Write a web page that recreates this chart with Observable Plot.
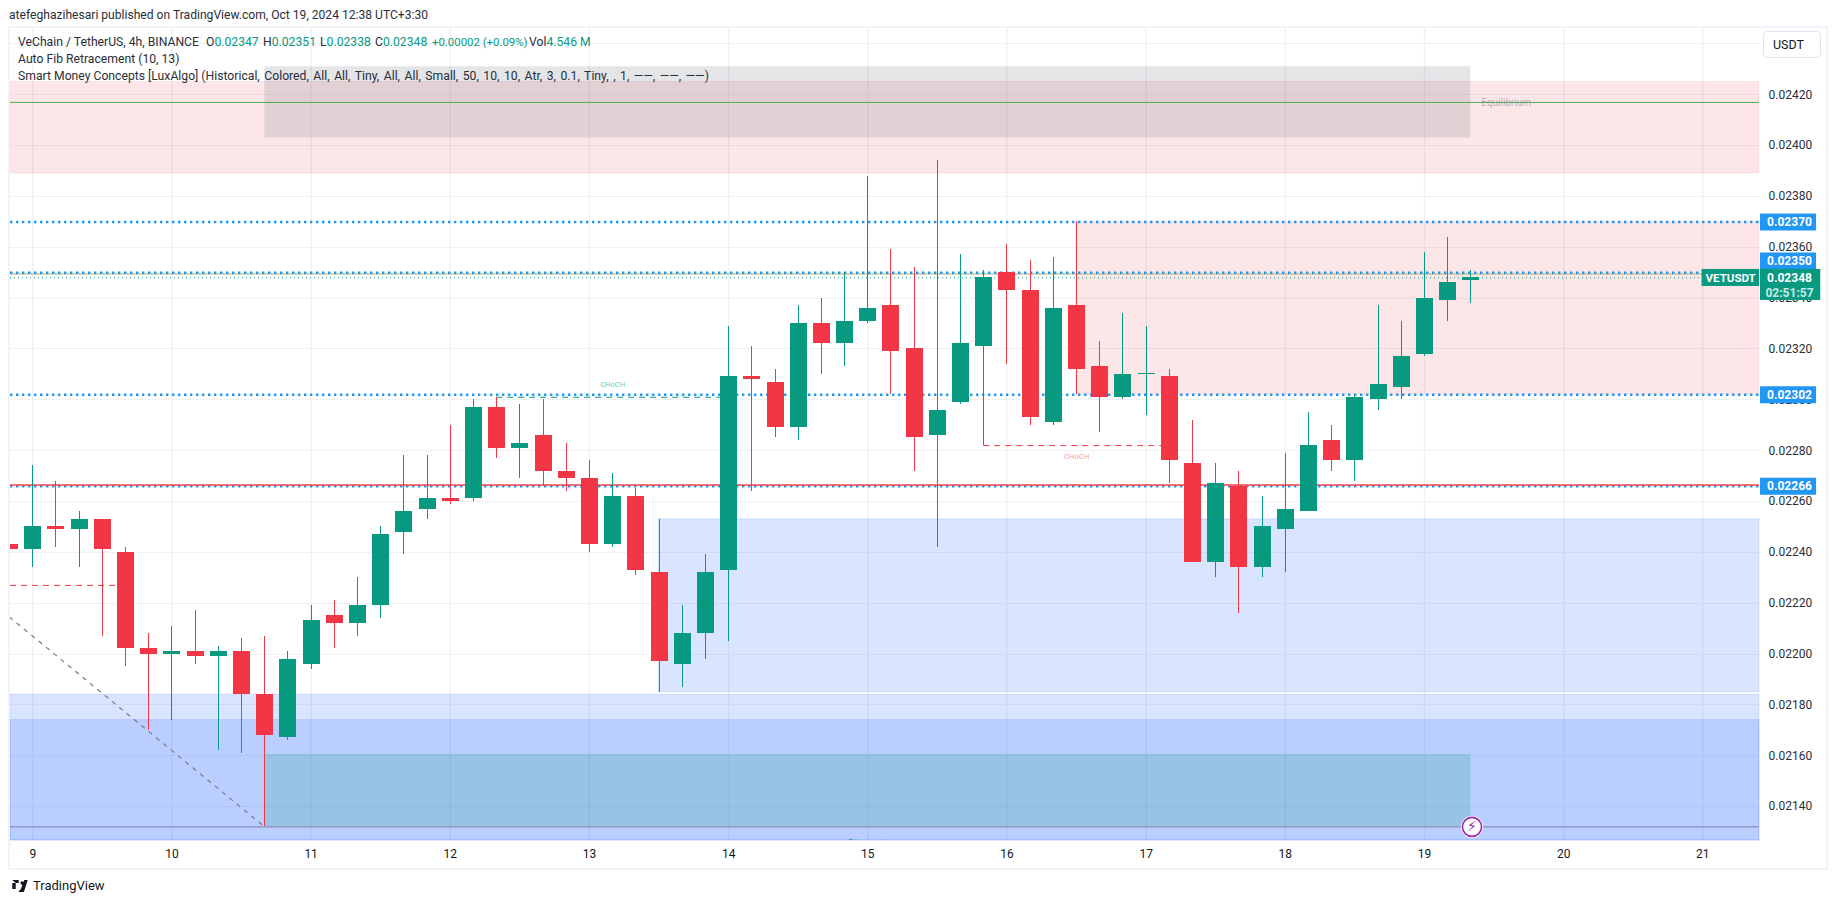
<!DOCTYPE html>
<html>
<head>
<meta charset="utf-8">
<script src="https://cdn.jsdelivr.net/npm/d3@7"></script>
<script src="https://cdn.jsdelivr.net/npm/@observablehq/plot@0.6"></script>
<style>
html,body{margin:0;padding:0;background:#fff;width:1835px;height:903px;overflow:hidden;font-family:Roboto,"Noto Sans",sans-serif;color:#131722}
#page{position:relative;width:1835px;height:903px}
#head{position:absolute;left:9px;top:6px;font-size:12.1px;line-height:18px;color:#2a2e39;white-space:nowrap}
#frame{position:absolute;left:8px;top:26px;width:1816px;height:840px;border:2px solid #f0f3fa;pointer-events:none}
#chart{position:absolute;left:0;top:27px}
#chart svg{display:block;background:transparent}
.leg{position:absolute;left:18px;font-size:12.2px;line-height:17px;color:#2a2e39;white-space:pre}
.leg span.p{position:absolute;top:0}
.leg span.w{word-spacing:1.5px}
.leg b{font-weight:400;color:#089981}
#usdt{position:absolute;left:1763px;top:31px;width:56px;height:25px;border:1px solid #e0e3eb;border-radius:4px;font-size:12.5px;line-height:25px;box-sizing:content-box;color:#131722;text-indent:9px;background:#fff}
#logo{position:absolute;left:10px;top:879px;display:flex;align-items:center;gap:3px;font-size:13px;line-height:14px;color:#131722}
</style>
</head>
<body>
<div id="page">
  <div id="head">atefeghazihesari published on TradingView.com, Oct 19, 2024 12:38 UTC+3:30</div>
  <div id="chart"></div>
  <div id="frame"></div>
  <div class="leg" style="top:34px">VeChain / TetherUS, 4h, BINANCE<span class="p" style="left:188px">O<b>0.02347</b></span><span class="p" style="left:245px">H<b>0.02351</b></span><span class="p" style="left:302px">L<b>0.02338</b></span><span class="p" style="left:357px">C<b>0.02348</b></span><span class="p" style="left:414px;font-size:11.4px"><b>+0.00002 (+0.09%)</b></span><span class="p" style="left:511px">Vol<b>4.546 M</b></span></div>
  <div class="leg" style="top:51px">Auto Fib Retracement (10, 13)</div>
  <div class="leg" style="top:68px">Smart Money Concepts [LuxAlgo] <span class="w">(Historical, Colored, All, All, Tiny, All, All, Small, 50, 10, 10, Atr, 3, 0.1, Tiny, , 1, ——, ——, ——)</span></div>
  <div id="usdt">USDT</div>
  <div id="logo">
    <svg width="20" height="12" viewBox="0 0 36 28"><path fill="#131722" d="M0 0h15v7H8v14H0V14H0zM27 7a4 4 0 1 1-8 0 4 4 0 0 1 8 0zM20 21l8-21h8l-9 28H14z M0 0v7h8z"/></svg>
    <span>TradingView</span>
  </div>
</div>
<script>
// ---------- candle data (price units of USDT), 4h bars ----------
const firstBar = -1;
const opens  = [0.02243,0.02241,0.02250,0.02249,0.02253,0.02240,0.02202,0.02200,0.02201,0.02199,0.02201,0.02184,0.02167,0.02196,0.02215,0.02212,0.02219,0.02248,0.02257,0.02261,0.02261,0.02297,0.02281,0.02286,0.02272,0.02269,0.02243,0.02262,0.02232,0.02196,0.02208,0.02233,0.02309,0.02307,0.02289,0.02330,0.02322,0.02331,0.02337,0.02320,0.02286,0.02299,0.02321,0.02350,0.02343,0.02291,0.02337,0.02313,0.02301,0.02310,0.02309,0.02275,0.02236,0.02266,0.02234,0.02249,0.02256,0.02284,0.02276,0.02300,0.02305,0.02318,0.02339,0.02347];
const highs  = [0.02243,0.02274,0.02268,0.02256,0.02253,0.02242,0.02208,0.02211,0.02217,0.02203,0.02206,0.02207,0.02201,0.02219,0.02221,0.02230,0.02250,0.02278,0.02278,0.02290,0.02300,0.02301,0.02298,0.02300,0.02283,0.02276,0.02271,0.02265,0.02253,0.02219,0.02239,0.02329,0.02321,0.02312,0.02337,0.02340,0.02350,0.02388,0.02359,0.02352,0.02394,0.02357,0.02351,0.02361,0.02355,0.02356,0.02370,0.02323,0.02334,0.02329,0.02312,0.02292,0.02275,0.02272,0.02262,0.02279,0.02295,0.02290,0.02302,0.02337,0.02331,0.02358,0.02364,0.02351];
const lows   = [0.02241,0.02234,0.02242,0.02234,0.02207,0.02195,0.02170,0.02174,0.02196,0.02162,0.02161,0.02132,0.02166,0.02194,0.02202,0.02207,0.02214,0.02239,0.02253,0.02259,0.02260,0.02277,0.02269,0.02266,0.02264,0.02240,0.02242,0.02231,0.02185,0.02187,0.02198,0.02205,0.02264,0.02285,0.02284,0.02310,0.02313,0.02330,0.02302,0.02272,0.02242,0.02298,0.02282,0.02314,0.02290,0.02290,0.02302,0.02287,0.02300,0.02294,0.02267,0.02236,0.02230,0.02216,0.02230,0.02232,0.02256,0.02272,0.02268,0.02296,0.02300,0.02317,0.02331,0.02338];
const closes = [0.02241,0.02250,0.02249,0.02253,0.02241,0.02202,0.02200,0.02201,0.02199,0.02201,0.02184,0.02168,0.02198,0.02213,0.02212,0.02219,0.02247,0.02256,0.02261,0.02260,0.02297,0.02281,0.02283,0.02272,0.02269,0.02243,0.02262,0.02233,0.02197,0.02208,0.02232,0.02309,0.02308,0.02289,0.02330,0.02322,0.02331,0.02336,0.02319,0.02285,0.02296,0.02322,0.02348,0.02343,0.02293,0.02336,0.02312,0.02301,0.02310,0.023104,0.02276,0.02236,0.02267,0.02234,0.02250,0.02257,0.02282,0.02276,0.02301,0.02306,0.02317,0.02340,0.02346,0.02348];

// ---------- axes ----------
const dayTicks = [9,10,11,12,13,14,15,16,17,18,19,20,21];
const priceTicks = [0.0214,0.0216,0.0218,0.0220,0.0222,0.0224,0.0226,0.0228,0.0230,0.0232,0.0234,0.0236,0.0238,0.0240,0.0242,0.0244];
const xDomain = [8.8398,21.4074];
const yDomain = [0.0212665,0.0244608];

// ---------- indicator zones ----------
const barDay = k => 9 + k/6;
const xMin = xDomain[0], xMax = xDomain[1];
const redZones = [
  {x1:xMin, x2:xMax, y1:0.02389, y2:0.02425},
  {x1:barDay(45), x2:xMax, y1:0.02302, y2:0.02370}
];
const blueZones = [
  {x1:barDay(27), x2:xMax, y1:0.02185, y2:0.02253},
  {x1:xMin, x2:xMax, y1:yDomain[0], y2:0.02184},
  {x1:xMin, x2:xMax, y1:yDomain[0], y2:0.02174}
];
const fibBoxes = [
  {x1:barDay(10), x2:barDay(62), y1:0.02403, y2:0.02431, fill:"#787b86"},
  {x1:barDay(10), x2:barDay(62), y1:0.02132, y2:0.021605, fill:"#089981"}
];
// ---------- level lines ----------
const blueLevels = [0.02370,0.02350,0.02302,0.02266];
const redLevel = [0.022665];
const fibLevel = [0.023495];
const lastPrice = [0.02348];
const equilibrium = [0.02417];
const lowLevel = [0.02132];
const dashed = [
  {a:barDay(20), b:barDay(30), y:0.02301, c:"#089981"},
  {a:barDay(41), b:barDay(49), y:0.02282, c:"#f23645"},
  {a:xMin, b:barDay(4), y:0.02227, c:"#f23645"}
];
const fibTrend = [{x:barDay(-1), y:0.022145},{x:barDay(10), y:0.02132}];
// ---------- text labels ----------
const notes = [
  {x:barDay(25), y:0.02306, t:"CHoCH", c:"#089981", o:.6, s:7.6},
  {x:barDay(45), y:0.022775, t:"CHoCH", c:"#f23645", o:.55, s:7.6},
  {x:barDay(36), y:0.021255, t:"Discount", c:"#089981", o:.8, s:10}
];
const equilibriumNote = [{x:barDay(62.45), y:0.02417, t:"Equilibrium"}];
// ---------- price badges in the right margin ----------
const badgeX1 = 21.4146, badgeX2 = 21.8176, badgeTextX = 21.6230;
const badges = [
  {label:"0.02370", pos:0.02370},
  {label:"0.02350", pos:0.023546},
  {label:"0.02302", pos:0.02302},
  {label:"0.02266", pos:0.02266}
];

const bars = opens.map((o,i)=>({
  x: barDay(firstBar+i), o, h: highs[i], l: lows[i], c: closes[i],
  col: closes[i]>=o ? "#089981" : "#f23645"
}));

const chart = Plot.plot({
  width:1835, height:841,
  marginTop:1, marginBottom:28, marginLeft:10, marginRight:76,
  style:{background:"transparent",fontFamily:"Roboto,'Noto Sans',sans-serif",fontSize:"12px",overflow:"visible"},
  x:{domain:xDomain, axis:null},
  y:{domain:yDomain, axis:null},
  marks:[
    // grid
    Plot.ruleY(priceTicks,{y:d=>d,stroke:"#eff1f5",strokeWidth:1,shapeRendering:"crispEdges"}),
    Plot.ruleX(dayTicks,{x:d=>d,stroke:"#eff1f5",strokeWidth:1.4}),
    // zones
    Plot.rect(redZones,{x1:"x1",x2:"x2",y1:"y1",y2:"y2",fill:"#f23645",fillOpacity:.125,stroke:"#f23645",strokeOpacity:.1}),
    Plot.rect(blueZones,{x1:"x1",x2:"x2",y1:"y1",y2:"y2",fill:"#2a6cff",fillOpacity:.18,stroke:"#2a6cff",strokeOpacity:.15}),
    Plot.rect(fibBoxes,{x1:"x1",x2:"x2",y1:"y1",y2:"y2",fill:"fill",fillOpacity:.2}),
    // lines
    Plot.ruleY(equilibrium,{y:d=>d,stroke:"#4caf50",strokeWidth:1}),
    Plot.ruleY(lowLevel,{y:d=>d,stroke:"#8f8db0",strokeWidth:1.2}),
    Plot.ruleY(fibLevel,{y:d=>d,stroke:"#a3b36c",strokeWidth:1}),
    Plot.ruleY(blueLevels,{y:d=>d,stroke:"#2196f3",strokeWidth:2.5,strokeDasharray:"2.4 3.6"}),
    Plot.ruleY(redLevel,{y:d=>d,stroke:"#f6414b",strokeWidth:1.4}),
    Plot.ruleY(lastPrice,{y:d=>d,stroke:"#089981",strokeWidth:1,strokeDasharray:"1 3"}),
    Plot.ruleY(dashed,{y:"y",x1:"a",x2:"b",stroke:"c",strokeWidth:1,strokeDasharray:"6 5",clip:true}),
    Plot.line(fibTrend,{x:"x",y:"y",stroke:"#787b86",strokeWidth:1.2,strokeDasharray:"3.5 6",clip:true}),
    // candles
    Plot.ruleX(bars,{x:"x",y1:"l",y2:"h",stroke:"col",strokeWidth:1,clip:true,shapeRendering:"crispEdges"}),
    Plot.ruleX(bars,{x:"x",y1:"o",y2:"c",stroke:"col",strokeWidth:17,clip:true,shapeRendering:"crispEdges"}),
    // labels
    Plot.text(notes,{x:"x",y:"y",text:"t",fill:"c",fillOpacity:"o",fontSize:"s",clip:true}),
    Plot.text(equilibriumNote,{x:"x",y:"y",text:"t",fill:"#787b86",fillOpacity:.5,fontSize:10,textAnchor:"start"}),
    // axes
    Plot.axisX({ticks:dayTicks,anchor:"bottom",tickSize:0,tickPadding:8.5,tickFormat:d=>d,fill:"#131722",label:null}),
    Plot.axisY({ticks:priceTicks.slice(0,-1),anchor:"right",tickSize:0,tickPadding:9,tickFormat:d3.format(".5f"),fill:"#2a2e39",label:null}),
    // flash marker
    Plot.dot([{x:barDay(62.05),y:0.02132}],{x:"x",y:"y",r:10,fill:"#fff",stroke:"#fff",strokeWidth:2}),
    Plot.dot([{x:barDay(62.05),y:0.02132}],{x:"x",y:"y",r:9.5,fill:"#fff",stroke:"#9c27b0",strokeWidth:1.6}),
    Plot.text([{x:barDay(62.05),y:0.02132}],{x:"x",y:"y",text:()=>"⚡\uFE0E",fill:"#9c27b0",fontSize:14,fontFamily:"DejaVu Sans"}),
    // badges
    Plot.ruleY(badges,{y:"pos",x1:()=>badgeX1,x2:()=>badgeX2,stroke:"#2196f3",strokeWidth:17}),
    Plot.text(badges,{x:()=>badgeTextX,y:"pos",text:"label",fill:"#fff",fontWeight:700,fontSize:12,textAnchor:"middle"}),
    Plot.rect([{a:badgeX1,b:badgeX2+0.03,y1:0.023391,y2:0.023513}],{x1:"a",x2:"b",y1:"y1",y2:"y2",fill:"#089981"}),
    Plot.rect([{a:20.9945,b:xMax,y1:0.023446,y2:0.023513}],{x1:"a",x2:"b",y1:"y1",y2:"y2",fill:"#089981"}),
    Plot.text([{x:badgeTextX,y:0.023477,t:"0.02348",o:1},{x:badgeTextX,y:0.023421,t:"02:51:57",o:.8}],{x:"x",y:"y",text:"t",fill:"#fff",fillOpacity:"o",fontWeight:700,fontSize:12,textAnchor:"middle"}),
    Plot.text([{x:21.2,y:0.023478,t:"VETUSDT"}],{x:"x",y:"y",text:"t",fill:"#fff",fontWeight:700,fontSize:11.5,textAnchor:"middle"})
  ]
});
document.getElementById("chart").appendChild(chart);
</script>
</body>
</html>
